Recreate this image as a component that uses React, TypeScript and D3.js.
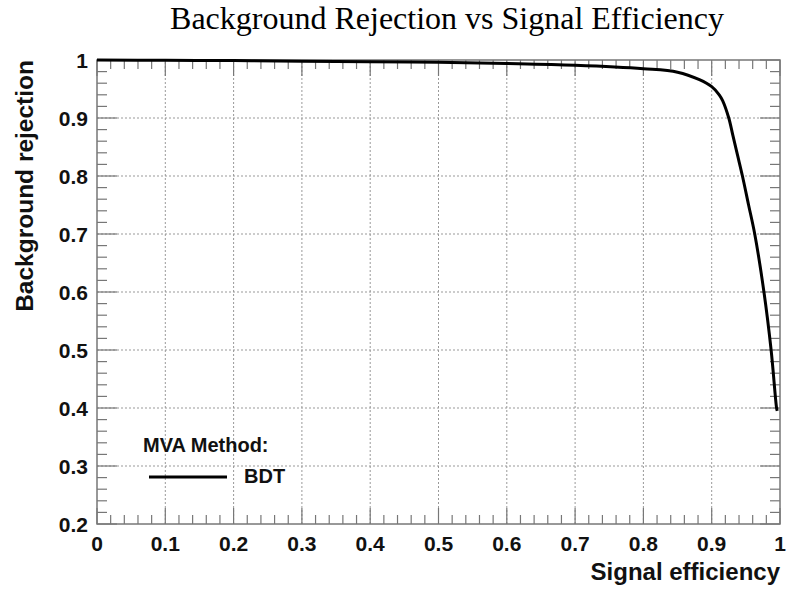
import React from "react";
import * as d3 from "d3";

// ROC curve
const effValues = [0, 0.1, 0.2, 0.3, 0.4, 0.5, 0.6, 0.7, 0.8, 0.85, 0.882, 0.9, 0.911, 0.916, 0.925, 0.931, 0.938, 0.945, 0.954, 0.963, 0.9765, 0.987, 0.995, 0.996];
const rejValues = [1, 0.9995, 0.999, 0.998, 0.997, 0.996, 0.994, 0.991, 0.985, 0.979, 0.966, 0.954, 0.94, 0.93, 0.9, 0.87, 0.835, 0.8, 0.75, 0.7, 0.6, 0.5, 0.4, 0.395];

const xTickLabels = ["0", "0.1", "0.2", "0.3", "0.4", "0.5", "0.6", "0.7", "0.8", "0.9", "1"];
const yTickLabels = ["0.2", "0.3", "0.4", "0.5", "0.6", "0.7", "0.8", "0.9", "1"];

const title = "Background Rejection vs Signal Efficiency";
const xTitle = "Signal efficiency";
const yTitle = "Background rejection";
const legendHeader = "MVA Method:";
const legendEntry = "BDT";

const W = 791;
const H = 590;
const margin = { top: 60, right: 11, bottom: 66, left: 97 };
const sans = "'Liberation Sans', Arial, Helvetica, sans-serif";
const frameColor = "#777";

const App = () => {
  const x = d3.scaleLinear().domain([0, 1]).range([margin.left, W - margin.right]);
  const y = d3.scaleLinear().domain([0.2, 1]).range([H - margin.bottom, margin.top]);

  const xMajor = xTickLabels.map(Number);
  const yMajor = yTickLabels.map(Number);
  const isMinor = (v: number) => Math.abs(v * 10 - Math.round(v * 10)) > 1e-6;
  const xMinor = d3.range(0, 1.0001, 0.02).filter(isMinor);
  const yMinor = d3.range(0.2, 1.0001, 0.02).filter(isMinor);

  const [x0, x1] = x.range();
  const [y0, y1] = y.range();

  const points: [number, number][] = effValues.map((e, i) => [e, rejValues[i]]);
  const line = d3
    .line<[number, number]>()
    .x((d) => x(d[0]))
    .y((d) => y(d[1]))
    .curve(d3.curveCatmullRom.alpha(0.5));

  return (
    <svg width={W} height={H} style={{ position: "absolute", left: 0, top: 0, background: "#fff" }}>
      <text x={447} y={29} textAnchor="middle" fontFamily="'Liberation Serif', 'Times New Roman', serif" fontSize={32}>
        {title}
      </text>

      {/* grid */}
      {xMajor.slice(1, -1).map((v) => (
        <line key={"gx" + v} x1={x(v)} x2={x(v)} y1={y0} y2={y1} stroke="#999" strokeWidth={1} strokeDasharray="2,2" />
      ))}
      {yMajor.slice(1, -1).map((v) => (
        <line key={"gy" + v} x1={x0} x2={x1} y1={y(v)} y2={y(v)} stroke="#999" strokeWidth={1} strokeDasharray="2,2" />
      ))}

      {/* ticks bottom / top */}
      {xMajor.map((v) => (
        <g key={"xt" + v} stroke={frameColor} strokeWidth={1.2}>
          <line x1={x(v)} x2={x(v)} y1={y0} y2={y0 - 16} />
          <line x1={x(v)} x2={x(v)} y1={y1} y2={y1 + 16} />
        </g>
      ))}
      {xMinor.map((v) => (
        <g key={"xm" + v} stroke={frameColor} strokeWidth={1.2}>
          <line x1={x(v)} x2={x(v)} y1={y0} y2={y0 - 9} />
          <line x1={x(v)} x2={x(v)} y1={y1} y2={y1 + 9} />
        </g>
      ))}
      {/* ticks left / right */}
      {yMajor.map((v) => (
        <g key={"yt" + v} stroke={frameColor} strokeWidth={1.2}>
          <line x1={x0} x2={x0 + 20} y1={y(v)} y2={y(v)} />
          <line x1={x1} x2={x1 - 20} y1={y(v)} y2={y(v)} />
        </g>
      ))}
      {yMinor.map((v) => (
        <g key={"ym" + v} stroke={frameColor} strokeWidth={1.2}>
          <line x1={x0} x2={x0 + 10} y1={y(v)} y2={y(v)} />
          <line x1={x1} x2={x1 - 10} y1={y(v)} y2={y(v)} />
        </g>
      ))}

      <rect x={x0} y={y1} width={x1 - x0} height={y0 - y1} fill="none" stroke={frameColor} strokeWidth={1.5} />

      {/* tick labels */}
      {xMajor.map((v, i) => (
        <text key={"xl" + v} x={x(v)} y={y0 + 27} textAnchor="middle" fontFamily={sans} fontWeight="bold" fontSize={21} fill="#111">
          {xTickLabels[i]}
        </text>
      ))}
      {yMajor.map((v, i) => (
        <text key={"yl" + v} x={x0 - 9} y={y(v) + 8} textAnchor="end" fontFamily={sans} fontWeight="bold" fontSize={21} fill="#111">
          {yTickLabels[i]}
        </text>
      ))}

      <text x={x1} y={580} textAnchor="end" fontFamily={sans} fontWeight="bold" fontSize={24} fill="#111">
        {xTitle}
      </text>
      <text
        transform={`translate(33, ${y1}) rotate(-90)`}
        textAnchor="end"
        fontFamily={sans}
        fontWeight="bold"
        fontSize={24.5}
        fill="#111"
      >
        {yTitle}
      </text>

      {/* curve */}
      <path d={line(points) ?? ""} fill="none" stroke="#000" strokeWidth={3} />

      {/* legend */}
      <text x={143} y={452} fontFamily={sans} fontWeight="bold" fontSize={20} fill="#111">
        {legendHeader}
      </text>
      <line x1={149} x2={227} y1={477} y2={477} stroke="#000" strokeWidth={3} />
      <text x={244} y={483} fontFamily={sans} fontWeight="bold" fontSize={20} fill="#111">
        {legendEntry}
      </text>
    </svg>
  );
};

export default App;
